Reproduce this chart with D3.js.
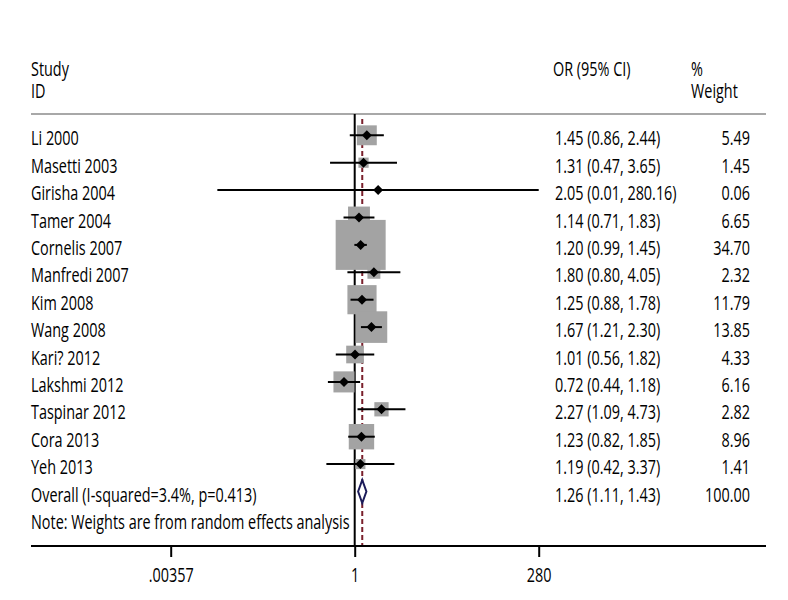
<!DOCTYPE html>
<html>
<head>
<meta charset="utf-8">
<script src="https://cdn.jsdelivr.net/npm/d3@7"></script>
<style>
html,body{margin:0;padding:0;background:#fff;}
svg{display:block;}
text{font-family:"Open Sans","Liberation Sans",sans-serif;font-size:19.5px;fill:#000;}
</style>
</head>
<body>
<svg id="chart" width="788" height="600"></svg>
<script>
const studies = ["Li 2000","Masetti 2003","Girisha 2004","Tamer 2004","Cornelis 2007","Manfredi 2007","Kim 2008","Wang 2008","Kari? 2012","Lakshmi 2012","Taspinar 2012","Cora 2013","Yeh 2013"];
const orValues = [1.45,1.31,2.05,1.14,1.20,1.80,1.25,1.67,1.01,0.72,2.27,1.23,1.19];
const lowerCI  = [0.86,0.47,0.0149,0.71,0.99,0.80,0.88,1.21,0.56,0.44,1.09,0.82,0.42];
const upperCI  = [2.44,3.65,280.16,1.83,1.45,4.05,1.78,2.30,1.82,1.18,4.73,1.85,3.37];
const weights  = [5.49,1.45,0.06,6.65,34.70,2.32,11.79,13.85,4.33,6.16,2.82,8.96,1.41];
const overall = {label:"Overall (I-squared=3.4%, p=0.413)", or:1.26, lo:1.11, hi:1.43, w:100.00};
const note = "Note: Weights are from random effects analysis";
const tickValues = [0.00357, 1, 280];
const tickLabels = [".00357", "1", "280"];

const svg = d3.select("#chart");
const rows = studies.concat(["__overall", "__note"]);
const x = d3.scaleLog().domain([0.00357, 280]).range([170.7, 538.7]);
const y = d3.scalePoint().domain(rows).range([135.3, 135.3 + 14*27.4]);
const boxSide = d3.scaleSqrt().domain([0, 34.70]).range([0, 50]);

const leftX = 31, rightX = 766, axisY = 546, topY = 114;
const orColX = 555, wColX = 750, pctX = 691;
const baseOff = 10;

// measure condense factor so the note spans its width in the reference
const probe = svg.append("text").text(note);
const probeLen = probe.node().getComputedTextLength();
probe.remove();
const sx = 319 / probeLen;

function addText(g, str, tx, ty, anchor) {
  return g.append("text")
    .attr("transform", `translate(${tx},${ty}) scale(${sx},1)`)
    .attr("text-anchor", anchor || "start")
    .text(str);
}

// header
const hdr = svg.append("g");
addText(hdr, "Study", leftX, 76);
addText(hdr, "ID", leftX, 97.5);
addText(hdr, "OR (95% CI)", 553, 76);
addText(hdr, "%", pctX, 76);
addText(hdr, "Weight", pctX, 97.5);
svg.append("line").attr("x1", leftX).attr("x2", rightX).attr("y1", topY).attr("y2", topY)
  .attr("stroke", "#a8a8a8").attr("stroke-width", 2);

// reference lines
svg.append("line").attr("x1", x(1)).attr("x2", x(1)).attr("y1", topY).attr("y2", axisY)
  .attr("stroke", "#000").attr("stroke-width", 2);
svg.append("line").attr("x1", x(overall.or)).attr("x2", x(overall.or)).attr("y1", topY + 5).attr("y2", axisY)
  .attr("stroke", "#7a1f2b").attr("stroke-width", 2).attr("stroke-dasharray", "5,3");

const data = studies.map((s, i) => ({s, or: orValues[i], lo: lowerCI[i], hi: upperCI[i], w: weights[i]}));

// boxes
svg.append("g").selectAll("rect").data(data).join("rect")
  .attr("x", d => x(d.or) - boxSide(d.w)/2)
  .attr("y", d => y(d.s) - boxSide(d.w)/2)
  .attr("width", d => boxSide(d.w))
  .attr("height", d => boxSide(d.w))
  .attr("fill", "#a3a3a3");

// CI lines
svg.append("g").selectAll("line").data(data).join("line")
  .attr("x1", d => x(d.lo)).attr("x2", d => x(d.hi))
  .attr("y1", d => y(d.s)).attr("y2", d => y(d.s))
  .attr("stroke", "#000").attr("stroke-width", 2);

// point markers
const ms = 5;
svg.append("g").selectAll("path").data(data).join("path")
  .attr("d", d => { const cx = x(d.or), cy = y(d.s); return `M${cx-ms},${cy}L${cx},${cy-ms}L${cx+ms},${cy}L${cx},${cy+ms}Z`; })
  .attr("fill", "#000");

// overall diamond
{
  const cy = y("__overall"), h = 11.5;
  svg.append("path")
    .attr("d", `M${x(overall.lo)},${cy}L${x(overall.or)},${cy-h}L${x(overall.hi)},${cy}L${x(overall.or)},${cy+h}Z`)
    .attr("fill", "#fff").attr("stroke", "#1c1c5a").attr("stroke-width", 2);
}

// row texts
const tg = svg.append("g");
data.forEach(d => {
  const ty = y(d.s) + baseOff;
  addText(tg, d.s, leftX, ty);
  addText(tg, `${d.or.toFixed(2)} (${d.lo.toFixed(2)}, ${d.hi.toFixed(2)})`, orColX, ty);
  addText(tg, d.w.toFixed(2), wColX, ty, "end");
});
{
  const ty = y("__overall") + baseOff;
  addText(tg, overall.label, leftX, ty);
  addText(tg, `${overall.or.toFixed(2)} (${overall.lo.toFixed(2)}, ${overall.hi.toFixed(2)})`, orColX, ty);
  addText(tg, overall.w.toFixed(2), wColX, ty, "end");
  addText(tg, note, leftX, y("__note") + baseOff);
}

// axis
svg.append("line").attr("x1", leftX).attr("x2", rightX).attr("y1", axisY).attr("y2", axisY)
  .attr("stroke", "#000").attr("stroke-width", 2);
const axis = d3.axisBottom(x).tickValues(tickValues).tickFormat((d, i) => tickLabels[i]).tickSize(11).tickPadding(0);
const ag = svg.append("g").attr("transform", `translate(0,${axisY})`).call(axis);
ag.select(".domain").remove();
ag.selectAll(".tick line").attr("stroke", "#000").attr("stroke-width", 2);
ag.selectAll(".tick text").remove();
ag.selectAll(".tick").each(function(d, i) {
  d3.select(this).append("text")
    .attr("transform", `translate(0,36) scale(${sx},1)`)
    .attr("text-anchor", "middle")
    .attr("fill", "#000")
    .style("font-size", "19.5px")
    .text(tickLabels[i]);
});
</script>
</body>
</html>
